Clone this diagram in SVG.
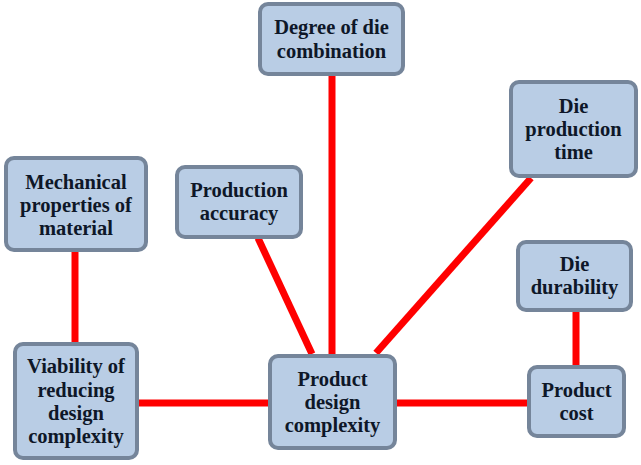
<svg xmlns="http://www.w3.org/2000/svg" width="641" height="465" viewBox="0 0 641 465">
<style>
.node rect{fill:#b9cde5;stroke:#75859a;stroke-width:4}
.node text{font-family:"Liberation Serif","Times New Roman",serif;font-weight:bold;font-size:20.5px;fill:#0e1728;text-anchor:middle}
.edge{stroke:#ff0000;stroke-width:7;fill:none}
</style>
<rect width="641" height="465" fill="#ffffff"/>
<g id="connectors">
<line class="edge" x1="332" y1="74" x2="332" y2="354"/>
<line class="edge" x1="531" y1="178" x2="376" y2="353"/>
<line class="edge" x1="258" y1="238" x2="312" y2="354"/>
<line class="edge" x1="75" y1="252" x2="75" y2="342"/>
<line class="edge" x1="139" y1="403" x2="268" y2="403"/>
<line class="edge" x1="397" y1="403" x2="527" y2="403"/>
<line class="edge" x1="576" y1="312" x2="576" y2="365"/>
</g>
<g id="degree" class="node">
<rect x="260" y="4" width="143" height="70" rx="8"/>
<text x="331.5" y="34">Degree of die</text>
<text x="331.5" y="58">combination</text>
</g>
<g id="dieprod" class="node">
<rect x="511" y="82" width="125" height="94" rx="8"/>
<text x="573.5" y="113">Die</text>
<text x="573.5" y="136">production</text>
<text x="573.5" y="159">time</text>
</g>
<g id="mech" class="node">
<rect x="6" y="158" width="140" height="92" rx="8"/>
<text x="76" y="189">Mechanical</text>
<text x="76" y="212">properties of</text>
<text x="76" y="235">material</text>
</g>
<g id="accuracy" class="node">
<rect x="177" y="167" width="124" height="70" rx="8"/>
<text x="239" y="197">Production</text>
<text x="239" y="220">accuracy</text>
</g>
<g id="durability" class="node">
<rect x="518" y="242" width="113" height="68" rx="8"/>
<text x="574.5" y="271">Die</text>
<text x="574.5" y="294">durability</text>
</g>
<g id="viability" class="node">
<rect x="15" y="344" width="122" height="114" rx="8"/>
<text x="76" y="373">Viability of</text>
<text x="76" y="397">reducing</text>
<text x="76" y="420">design</text>
<text x="76" y="443">complexity</text>
</g>
<g id="product" class="node">
<rect x="270" y="356" width="125" height="92" rx="8"/>
<text x="332.5" y="386">Product</text>
<text x="332.5" y="409">design</text>
<text x="332.5" y="432">complexity</text>
</g>
<g id="cost" class="node">
<rect x="529" y="367" width="95" height="69" rx="8"/>
<text x="576.5" y="397">Product</text>
<text x="576.5" y="420">cost</text>
</g>
</svg>
